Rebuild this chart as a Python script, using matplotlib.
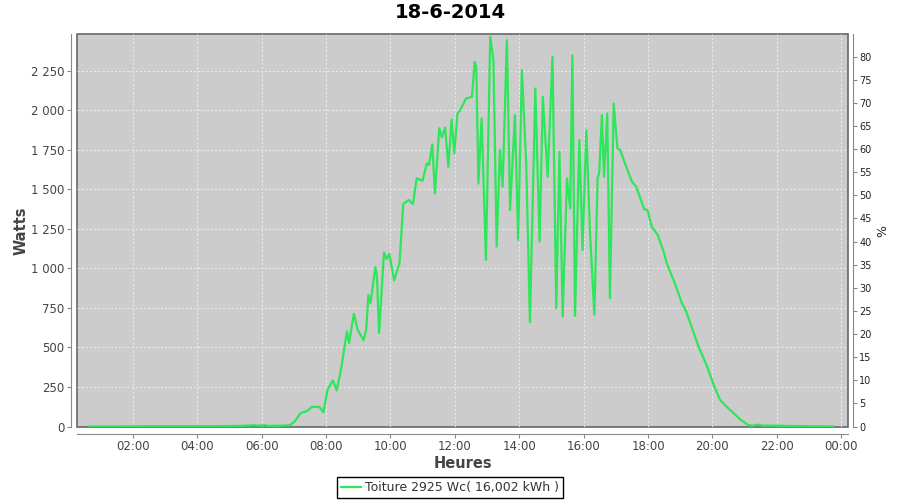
import matplotlib
matplotlib.use("Agg")
import matplotlib.pyplot as plt
from matplotlib.ticker import FuncFormatter, MultipleLocator

# production du 18-6-2014 (heure, watts)
heures = ["00:40", "01:30", "02:30", "03:30", "04:30", "05:00", "05:30", "05:45",
          "05:55", "06:05", "06:15", "06:25", "06:34", "06:53", "07:02", "07:13",
          "07:24", "07:34", "07:48", "07:55", "08:03", "08:13", "08:20", "08:28",
          "08:39", "08:43", "08:52", "08:59", "09:10", "09:15", "09:19", "09:23",
          "09:32", "09:35", "09:39", "09:48", "09:53", "09:58", "10:07", "10:17",
          "10:24", "10:34", "10:42", "10:49", "11:00", "11:08", "11:12", "11:18",
          "11:23", "11:31", "11:36", "11:42", "11:48", "11:54", "11:59", "12:05",
          "12:10", "12:21", "12:32", "12:37", "12:40", "12:44", "12:50", "12:58",
          "13:06", "13:12", "13:18", "13:24", "13:29", "13:37", "13:43", "13:52",
          "13:58", "14:05", "14:13", "14:20", "14:30", "14:38", "14:44", "14:53",
          "15:02", "15:09", "15:15", "15:21", "15:29", "15:35", "15:39", "15:44",
          "15:52", "15:58", "16:05", "16:12", "16:20", "16:26", "16:29", "16:34",
          "16:38", "16:44", "16:49", "16:56", "17:03", "17:08", "17:17", "17:30",
          "17:38", "17:53", "17:59", "18:07", "18:18", "18:29", "18:35", "18:51",
          "19:03", "19:11", "19:22", "19:34", "19:50", "20:02", "20:14", "20:24",
          "20:39", "20:52", "21:07", "21:16", "21:23", "21:35", "21:50", "22:10",
          "22:30", "23:00", "23:45"]
watts = [0, 0, 2, 2, 2, 3, 5, 8,
         5, 8, 3, 5, 5, 8, 33, 86,
         97, 124, 124, 90, 234, 292, 229, 360,
         602, 528, 713, 612, 545, 612, 833, 781,
         1008, 949, 591, 1100, 1059, 1092, 924, 1033,
         1408, 1433, 1408, 1570, 1555, 1665, 1654, 1785,
         1475, 1886, 1829, 1892, 1643, 1942, 1728, 1980,
         2001, 2075, 2085, 2306, 2275, 1538, 1949, 1054,
         2465, 2317, 1138, 1749, 1517, 2443, 1370, 1970,
         1181, 2254, 1665, 660, 2138, 1170, 2085, 1580,
         2338, 749, 1738, 696, 1570, 1381, 2348, 700,
         1812, 1117, 1875, 1223, 707, 1570, 1602, 1970,
         1580, 1980, 812, 2043, 1759, 1749, 1665, 1549,
         1517, 1374, 1370, 1264, 1212, 1107, 1033, 896,
         781, 728, 623, 507, 381, 265, 170, 133,
         86, 44, 8, 5, 12, 5, 6, 4,
         3, 2, 0]

puissance_crete = 2925
titre = "18-6-2014"
legende = "Toiture 2925 Wc( 16,002 kWh )"

x = [int(h[:2]) + int(h[3:]) / 60 for h in heures]

vert = "#2ee65a"
gris = "#888888"
texte = "#444444"

fig = plt.figure(figsize=(9, 5), dpi=100)
ax = fig.add_axes([0.0856, 0.146, 0.857, 0.7854])
ax.set_facecolor("#cccccc")
ax.patch.set_edgecolor("#666666")
ax.patch.set_linewidth(1.2)

ax.plot(x, watts, color=vert, lw=1.6, label=legende)

ax.set_xlim(0.27, 24.22)
ax.set_ylim(-3, 2481)
ax.xaxis.set_major_locator(MultipleLocator(2))
ax.yaxis.set_major_locator(MultipleLocator(250))
ax.xaxis.set_major_formatter(FuncFormatter(lambda v, p: "%02d:00" % (int(round(v)) % 24)))
ax.yaxis.set_major_formatter(FuncFormatter(lambda v, p: "{:,}".format(int(v)).replace(",", " ")))
ax.grid(True, color="#f0f0f0", ls=(0, (2.5, 2.5)), lw=0.6)

for s in ["top", "right"]:
    ax.spines[s].set_visible(False)
ax.spines["left"].set_position(("outward", 4))
ax.spines["bottom"].set_position(("outward", 5))
for s in ["left", "bottom"]:
    ax.spines[s].set_color(gris)
ax.tick_params(colors=gris, labelcolor=texte, labelsize=8.5, length=3)
ax.tick_params(axis="x", pad=1.5)
ax.tick_params(axis="y", pad=2)

ax2 = ax.twinx()
ax2.set_ylim(ax.get_ylim()[0] / puissance_crete * 100, ax.get_ylim()[1] / puissance_crete * 100)
ax2.yaxis.set_major_locator(MultipleLocator(5))
for s in ["top", "left", "bottom"]:
    ax2.spines[s].set_visible(False)
ax2.spines["right"].set_position(("outward", 3))
ax2.spines["right"].set_color(gris)
ax2.tick_params(colors=gris, labelcolor="#222222", labelsize=7, length=3, pad=2)
ax2.set_ylabel("%", fontsize=9, color="#222222", labelpad=3)

ax.set_ylabel("Watts", fontsize=10.5, fontweight="bold", color=texte, labelpad=2)
ax.set_xlabel("Heures", fontsize=10.5, fontweight="bold", color=texte, labelpad=2)
fig.suptitle(titre, fontsize=14, fontweight="bold", y=0.993)

leg = fig.legend(loc="lower center", bbox_to_anchor=(0.5, -0.008), fontsize=9,
                 fancybox=False, framealpha=1, edgecolor="black", handlelength=1.6,
                 handletextpad=0.3, borderpad=0.3)
leg.get_frame().set_linewidth(1.0)
for t in leg.get_texts():
    t.set_color("#333333")

fig.savefig("out.png", dpi=100)
